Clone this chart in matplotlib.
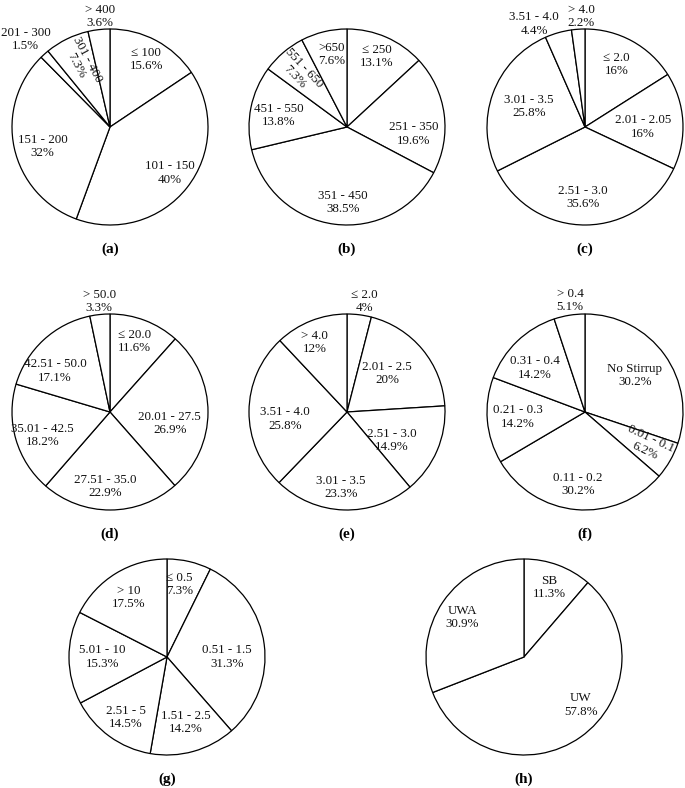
import matplotlib
matplotlib.use("Agg")
import matplotlib.pyplot as plt

plt.rcParams['font.family'] = ['Liberation Serif', 'DejaVu Serif']

# ---------------- data ----------------
a_cats = ["≤ 100", "101 - 150", "151 - 200", "201 - 300", "301 - 400", "> 400"]
a_vals = [15.6, 40, 32, 1.5, 7.3, 3.6]

b_cats = ["≤ 250", "251 - 350", "351 - 450", "451 - 550", "551 - 650", ">650"]
b_vals = [13.1, 19.6, 38.5, 13.8, 7.3, 7.6]

c_cats = ["≤ 2.0", "2.01 - 2.05", "2.51 - 3.0", "3.01 - 3.5", "3.51 - 4.0", "> 4.0"]
c_vals = [16, 16, 35.6, 25.8, 4.4, 2.2]

d_cats = ["≤ 20.0", "20.01 - 27.5", "27.51 - 35.0", "35.01 - 42.5", "42.51 - 50.0", "> 50.0"]
d_vals = [11.6, 26.9, 22.9, 18.2, 17.1, 3.3]

e_cats = ["≤ 2.0", "2.01 - 2.5", "2.51 - 3.0", "3.01 - 3.5", "3.51 - 4.0", "> 4.0"]
e_vals = [4, 20, 14.9, 23.3, 25.8, 12]

f_cats = ["No Stirrup", "0.01 - 0.1", "0.11 - 0.2", "0.21 - 0.3", "0.31 - 0.4", "> 0.4"]
f_vals = [30.2, 6.2, 30.2, 14.2, 14.2, 5.1]

g_cats = ["≤ 0.5", "0.51 - 1.5", "1.51 - 2.5", "2.51 - 5", "5.01 - 10", "> 10"]
g_vals = [7.3, 31.3, 14.2, 14.5, 15.3, 17.5]

h_cats = ["SB", "UW", "UWA"]
h_vals = [11.3, 57.8, 30.9]

panel_letters = ["(a)", "(b)", "(c)", "(d)", "(e)", "(f)", "(g)", "(h)"]

# ---------------- layout (pixels, radius units for labels) ----------------
W, H = 685, 788
R = 98
centers = [(110, 127), (347, 127), (585, 127),
           (110, 412), (347, 412), (585, 412),
           (167, 657), (524, 657)]
# label offsets (dx, dy in radius units, y up) and rotation
label_layout = [
    [(0.37, 0.69, 0), (0.61, -0.47, 0), (-0.69, -0.20, 0), (-0.86, 0.89, 0), (-0.29, 0.66, -62), (-0.10, 1.13, 0)],
    [(0.30, 0.72, 0), (0.68, -0.07, 0), (-0.04, -0.77, 0), (-0.70, 0.12, 0), (-0.49, 0.56, -47), (-0.16, 0.74, 0)],
    [(0.32, 0.64, 0), (0.59, 0.0, 0), (-0.02, -0.72, 0), (-0.57, 0.21, 0), (-0.52, 1.05, 0), (-0.04, 1.13, 0)],
    [(0.25, 0.72, 0), (0.61, -0.12, 0), (-0.05, -0.76, 0), (-0.69, -0.24, 0), (-0.56, 0.42, 0), (-0.11, 1.13, 0)],
    [(0.18, 1.13, 0), (0.41, 0.39, 0), (0.46, -0.29, 0), (-0.06, -0.77, 0), (-0.63, -0.07, 0), (-0.33, 0.71, 0)],
    [(0.51, 0.37, 0), (0.64, -0.34, -25), (-0.07, -0.74, 0), (-0.69, -0.05, 0), (-0.51, 0.45, 0), (-0.15, 1.14, 0)],
    [(0.13, 0.74, 0), (0.61, 0.0, 0), (0.19, -0.67, 0), (-0.42, -0.62, 0), (-0.66, 0.0, 0), (-0.39, 0.61, 0)],
    [(0.26, 0.71, 0), (0.58, -0.49, 0), (-0.63, 0.40, 0)],
]
letter_gap = 122  # distance from pie centre down to panel letter

panels = [(a_cats, a_vals), (b_cats, b_vals), (c_cats, c_vals),
          (d_cats, d_vals), (e_cats, e_vals), (f_cats, f_vals),
          (g_cats, g_vals), (h_cats, h_vals)]

fig = plt.figure(figsize=(W / 100, H / 100), dpi=100)
ax = fig.add_axes([0, 0, 1, 1])

for (cats, vals), (cx, cy), labs, letter in zip(panels, centers, label_layout, panel_letters):
    cyu = H - cy
    ax.pie(vals, startangle=90, counterclock=False, center=(cx, cyu), radius=R,
           colors=['white'] * len(vals), normalize=True,
           wedgeprops=dict(edgecolor='black', linewidth=0.9))
    for cat, v, (dx, dy, rot) in zip(cats, vals, labs):
        ax.text(cx + dx * R, cyu + dy * R, f"{cat}\n{v:g}%", ha='center', va='center',
                fontsize=9.4, rotation=rot, linespacing=1.15, color='#111111')
    ax.text(cx, cyu - letter_gap, letter, ha='center', va='center',
            fontsize=11, fontweight='bold')

ax.set_xlim(0, W)
ax.set_ylim(0, H)
ax.set_aspect('auto')
ax.axis('off')

fig.savefig("out.png", dpi=100, facecolor='white')
